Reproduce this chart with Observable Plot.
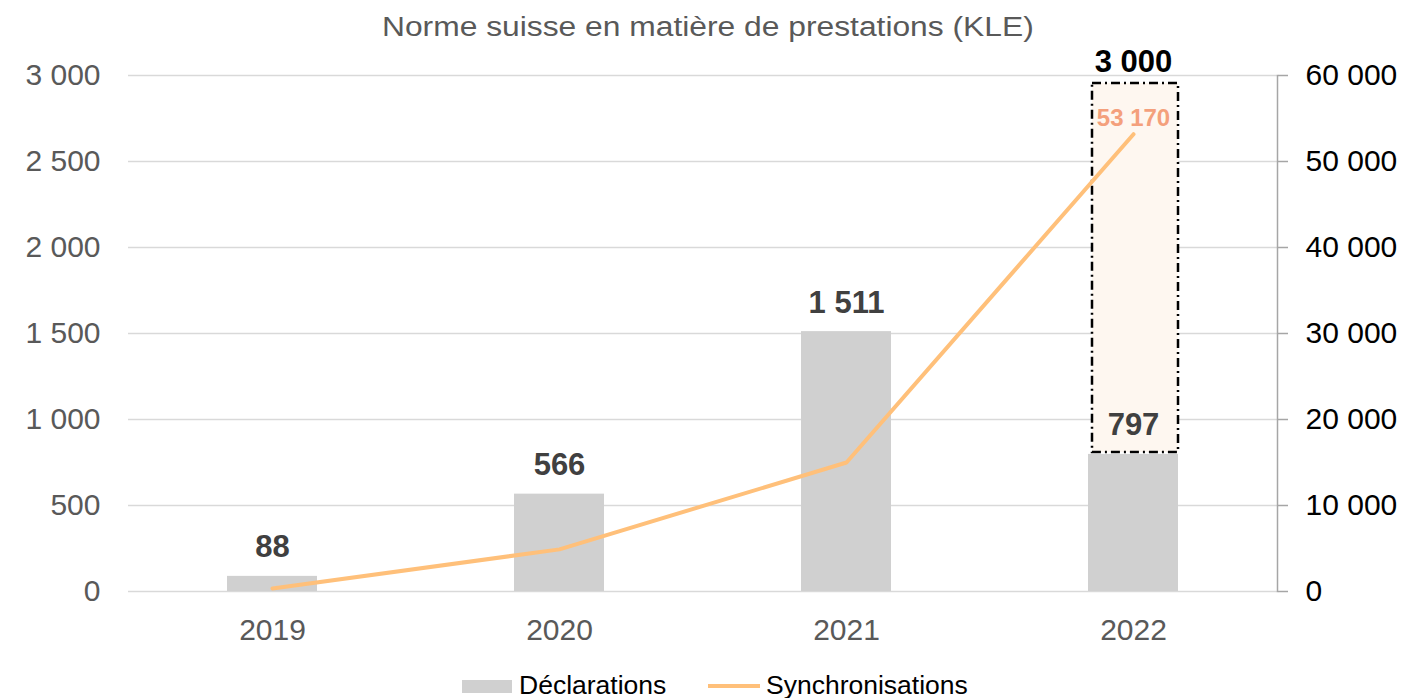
<!DOCTYPE html>
<html>
<head>
<meta charset="utf-8">
<script src="https://cdn.jsdelivr.net/npm/d3@7"></script>
<script src="https://cdn.jsdelivr.net/npm/@observablehq/plot@0.6"></script>
<style>
  html, body { margin: 0; padding: 0; background: #fff; }
  body { width: 1416px; height: 698px; position: relative; overflow: hidden; font-family: "Liberation Sans", Arial, sans-serif; }
  #title { position: absolute; left: 0; top: 0; width: 1416px; height: 54px; line-height: 54px; text-align: center; font-size: 27px; color: #595959; z-index: 2; }
  #title span { display: inline-block; transform: scaleX(1.177); transform-origin: center; }
  #chart { position: absolute; left: 0; top: 40px; z-index: 1; }
  #legend { position: absolute; left: 0; top: 672px; width: 1416px; height: 26px; font-size: 26.5px; color: #000; }
  .item { position: absolute; top: 0; height: 26px; line-height: 26px; white-space: nowrap; }
  .sw { display: inline-block; vertical-align: middle; }
</style>
</head>
<body>
<div id="title"><span>Norme suisse en matière de prestations (KLE)</span></div>
<div id="chart"></div>
<div id="legend">
  <div class="item" style="left:462px"><span class="sw" style="width:50px;height:13px;background:#d0d0d0;margin-right:7px;position:relative;top:-1px"></span>Déclarations</div>
  <div class="item" style="left:708px"><span class="sw" style="width:52px;height:4px;background:#ffc07a;margin-right:6px;position:relative;top:-1px"></span>Synchronisations</div>
</div>
<script>
const years = ["2019", "2020", "2021", "2022"];
const declarations = [88, 566, 1511, 797];
const synchronisations = [350, 4900, 15000, 53170];
const target2022 = 3000;
const leftTicks = [0, 500, 1000, 1500, 2000, 2500, 3000];
const rightRatio = 20; // right axis = left axis * 20

const fmt = v => d3.format(",")(v).replace(/,/g, " ");

const bars = years.map((y, i) => ({year: y, value: declarations[i]}));
const sync = years.map((y, i) => ({year: y, value: synchronisations[i] / rightRatio, raw: synchronisations[i]}));
const target = [{year: years[3], low: declarations[3], high: target2022}];
const last = sync[sync.length - 1];

const chart = Plot.plot({
  width: 1416,
  height: 620,
  marginTop: 35,
  marginBottom: 69,
  marginLeft: 128,
  marginRight: 139,
  style: {fontFamily: "'Liberation Sans', Arial, sans-serif", background: "transparent", overflow: "visible"},
  x: {domain: years, paddingInner: 0.686, paddingOuter: 0.343, align: 0.5, label: null},
  y: {domain: [0, 3000], label: null},
  marks: [
    Plot.gridY(leftTicks, {stroke: "#d9d9d9", strokeOpacity: 1, strokeWidth: 1.5}),
    Plot.axisY(leftTicks, {anchor: "left", tickSize: 0, tickPadding: 28, fontSize: 30, fill: "#595959", tickFormat: fmt, label: null}),
    Plot.axisY(leftTicks, {anchor: "right", tickSize: 10, tickPadding: 18, fontSize: 30, fill: "#000", stroke: "#a6a6a6", strokeWidth: 1.5, tickFormat: d => fmt(d * rightRatio), label: null}),
    Plot.frame({anchor: "right", stroke: "#a6a6a6", strokeWidth: 1.5}),
    Plot.axisX({tickSize: 0, tickPadding: 27, fontSize: 30, fill: "#595959", label: null}),
    Plot.barY(bars, {x: "year", y: "value", fill: "#d0d0d0"}),
    Plot.rectY(target, {x: "year", y1: "low", y2: "high", insetTop: 8, insetBottom: 2, insetLeft: 4, fill: "#fef7f0", stroke: "#000", strokeWidth: 2.5, strokeDasharray: "9,4,2,4"}),
    Plot.lineY(sync, {x: "year", y: "value", stroke: "#ffc07a", strokeWidth: 4}),
    Plot.text(bars, {x: "year", y: "value", text: d => fmt(d.value), dy: -29, fontSize: 31, fontWeight: "bold", fill: "#404040"}),
    Plot.text(target, {x: "year", y: "high", text: d => fmt(d.high), dy: -13, fontSize: 31, fontWeight: "bold", fill: "#000"}),
    Plot.text([last], {x: "year", y: "value", text: d => fmt(d.raw), dy: -16, fontSize: 24, fontWeight: "bold", fill: "#f4a07c"})
  ]
});
document.getElementById("chart").appendChild(chart);
</script>
</body>
</html>
